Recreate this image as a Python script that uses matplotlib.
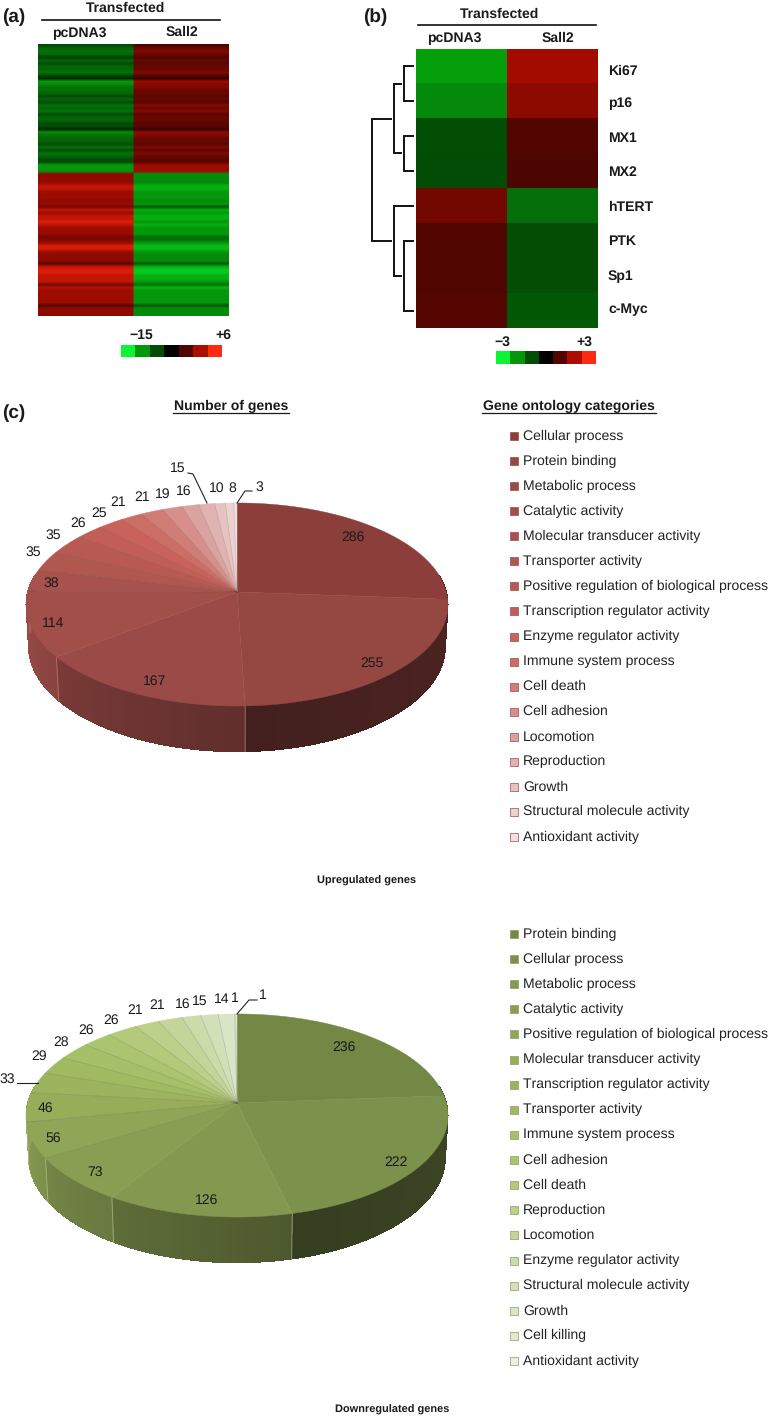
import numpy as np
import matplotlib
matplotlib.use("Agg")
import matplotlib.pyplot as plt
from matplotlib.colors import LinearSegmentedColormap, to_rgb
from matplotlib.collections import PolyCollection
from matplotlib.patches import Polygon

plt.rcParams['font.family'] = ['Liberation Sans', 'DejaVu Sans']
plt.rcParams['text.hinting'] = 'none'
plt.rcParams['text.hinting_factor'] = 1

# ---------- data ----------
columns = ["pcDNA3", "Sall2"]
# heatmap (a): expression level per gene row (signed, -10 to +10 of the colour scale)
a_up_pc = [-3,-4,-4.5,-4,-2.5,-4,-3,-4,-4,-4.5,-3,-1.5,-6,-5.5,-4.5,-4.5,-4,-3,-4,-3,-4.5,-4,-4.5,-3,-4,-4,-3,-3,-1.5,-5.5,-4.5,-4,-4,-3,-4.5,-3,-4.5,-4,-3,-3,-6,-6,-6]
a_up_sa = [3,4,5,4,3,4,3.5,4,4,5,3.5,2,6,5,5,4,4,3.5,4,3.5,5,4,5,3.5,4,4,3.5,3.5,2,5.5,5,4,4,3.5,5,3.5,5,4,3.5,3.5,6,6,6]
a_dn_pc = [5.5,5.5,5.5,6,7.5,7.5,6,6,6,5.5,6,4.5,7.5,6,7.5,7.5,8.5,7.5,6,6,6,4.5,5,6,8.5,8.5,6,5.5,5.5,5.5,3.5,7.5,8.5,8.5,7.5,7.5,7.5,4.5,7,6,6,6,6,6,3.5,5.5,5.5,5.5]
a_dn_sa = [-5.5,-5.5,-5.5,-5.5,-7,-7,-6,-6,-6,-5.5,-6,-3.5,-7,-6,-7,-7,-6,-7,-6,-6,-6,-4.5,-4.5,-6,-7.5,-7.5,-6,-5.5,-5.5,-5.5,-3.5,-7,-8,-8,-7,-7,-6,-4.5,-7,-6,-6,-6,-6,-6,-3.5,-5.5,-5.5,-5.5]
a_scale_labels = ["\u221215", "+6"]

b_genes = ["Ki67", "p16", "MX1", "MX2", "hTERT", "PTK", "Sp1", "c-Myc"]
b_pc = [-6.3,-5.4,-3.1,-3.0,4.4,3.1,3.1,3.3]
b_sa = [6.3,5.4,3.2,2.9,-4.4,-3.1,-3.1,-3.5]
b_scale_labels = ["\u22123", "+3"]
scale_steps = [-10,-6,-3,0,3.2,6.6,10]
# dendrogram merges: member leaves or earlier nodes (by index into the list, offset by 100), height
dend_merges = [((0,1),10), ((2,3),10), ((100,101),20), ((5,6,7),10), ((4,103),20), ((102,104),42)]

up_names = ["Cellular process","Protein binding","Metabolic process","Catalytic activity","Molecular transducer activity","Transporter activity","Positive regulation of biological process","Transcription regulator activity","Enzyme regulator activity","Immune system process","Cell death","Cell adhesion","Locomotion","Reproduction","Growth","Structural molecule activity","Antioxidant activity"]
up_vals = [286,255,167,114,38,35,35,26,25,21,21,19,16,15,10,8,3]
up_colors = ["#8b3e3a","#954742","#9b4b47","#a24f4a","#a8524d","#b0574f","#b85a53","#c05e57","#c9625b","#cc6d66","#d07d77","#d68f8a","#dba3a0","#e0b3b1","#e6c3c1","#ebd2d1","#f0e0df"]
dn_names = ["Protein binding","Cellular process","Metabolic process","Catalytic activity","Positive regulation of biological process","Molecular transducer activity","Transcription regulator activity","Transporter activity","Immune system process","Cell adhesion","Cell death","Reproduction","Locomotion","Enzyme regulator activity","Structural molecule activity","Growth","Cell killing","Antioxidant activity"]
dn_vals = [236,222,126,73,56,46,33,29,28,26,26,21,21,16,15,14,1,1]
dn_colors = ["#748845","#7c914b","#84984f","#8a9e53","#90a656","#97ad5a","#9cb45e","#a0ba62","#a5c068","#abc46f","#b3ca7b","#bcd08a","#c3d59a","#cbdcaa","#d2e0b8","#d9e6c6","#e0ebd2","#e8f0de"]

# label anchor positions, in figure pixels
up_label_xy = [(353,537),(372,663),(155,681),(53,623),(51,583),(33,552),(53,535),(78,523),(99,513),(118,502),(142,497),(163,494),(184,491),(178,468),(217,488),(232,488),(259,487)]
dn_label_xy = [(344,1047),(396,1162),(207,1200),(95,1172),(53,1138),(45,1108),(7,1079),(39,1056),(61,1042),(86,1030),(111,1020),(135,1010),(157,1005),(183,1004),(200,1001),(222,999),(235,998),(263,995)]

# ---------- figure ----------
W, H = 772, 1419
fig = plt.figure(figsize=(W/100, H/100), dpi=100, facecolor="white")
bg = fig.add_axes([0,0,1,1])
bg.set_xlim(0,W); bg.set_ylim(H,0); bg.axis("off")
cmap = LinearSegmentedColormap.from_list("gbr", [(0,"#0cf535"),(.175,"#06a40c"),(.5,"#000000"),(.825,"#a80c00"),(1,"#ff2a10")])
TXT = "#1a1a1a"

def px_axes(x0,y0,x1,y1):
    return fig.add_axes([x0/W, 1-y1/H, (x1-x0)/W, (y1-y0)/H])

def heat(box, matrix, rows=1, cols=80, interp="bilinear"):
    ax = px_axes(*box)
    fine = np.repeat(np.repeat(matrix, rows, axis=0), cols, axis=1)
    ax.imshow(fine, cmap=cmap, vmin=-10, vmax=10, aspect="auto", interpolation=interp)
    ax.axis("off")
    return ax

def btext(x,y,s,size=10.3,**kw):
    kw.setdefault("ha","center")
    bg.text(x,y,s,fontsize=size,fontweight="bold",va="center",color=TXT,**kw)

# panel a
mat_a = np.column_stack([a_up_pc+a_dn_pc, a_up_sa+a_dn_sa])
heat((37.7,44.3,228.7,315.7), mat_a)
heat((120.7,345,221.7,357), np.array([scale_steps]), cols=1, interp="nearest")
btext(125,8,"Transfected")
bg.plot([42,220],[20,20],color="#111",lw=1.2)
btext(79,33,columns[0]); btext(182,32,columns[1])
btext(141,335,a_scale_labels[0]); btext(223,335,a_scale_labels[1])
btext(14,17,"(a)",14)

# panel b
mat_b = np.column_stack([b_pc,b_sa])
heat((415.7,48.7,596.7,328), mat_b, rows=30)
heat((496,351,595,364), np.array([scale_steps]), cols=1, interp="nearest")
btext(500,14,"Transfected")
bg.plot([418,596],[25,25],color="#111",lw=1.2)
btext(454,38,columns[0]); btext(558,38,columns[1])
for g,y in zip(b_genes,[71,103,138,172,207,241,276,309]):
    btext(608,y,g,ha="left")
btext(502,342,b_scale_labels[0]); btext(584,342,b_scale_labels[1])
btext(375,17,"(b)",14)

# dendrogram, in the row scale of the heatmap
dax = px_axes(365,48.7,414,328)
dax.set_xlim(49,0); dax.set_ylim(8,0); dax.axis("off")
nodes = {}
def pos(k):
    return (k+0.5,0.0) if k<100 else nodes[k]
for i,(members,h) in enumerate(dend_merges):
    pts = [pos(m) for m in members]
    ys = [p[0] for p in pts]
    first,last = pts[0],pts[-1]
    stop = lambda p: (p[1]+3.5) if p[1]>0 else 1
    dax.plot([stop(first),h,h,stop(last)],[first[0],first[0],last[0],last[0]],color="#111",lw=1.4,solid_joinstyle="miter")
    nodes[100+i] = (np.mean(ys),h)

# pies
A,B,K,D,M = 100.0,209.4,0.123,42.0,0.012
def project(theta,r,z,c):
    th = np.radians(theta)
    u,v = r*np.sin(th), r*np.cos(th)
    den = 1+K*v+M*z
    return c[0]+B*u/den, c[1]-(A*v-D*z)/den

def shade(mid,theta):
    base = np.interp(mid,[120,136,190,205,225,250,275],[.45,.48,.65,.7,.8,.9,.95])
    slope = .003 if mid>160 else -.0008
    return np.clip(base+(theta-mid)*slope,0,1)

def pie3d(vals,colors,c,edge):
    vals = np.asarray(vals,float)
    ang = np.concatenate([[0],np.cumsum(vals)/vals.sum()*360])
    for i,col in enumerate(colors):
        a0,a1 = ang[i],ang[i+1]
        lo,hi = max(a0,80),min(a1,280)
        if hi>lo:
            mid=(a0+a1)/2
            t = np.append(np.arange(lo,hi,1.0),hi)
            quads,fc=[],[]
            for p,q in zip(t[:-1],t[1:]):
                x0,y0=project(p,1,0,c);x1,y1=project(q+.3,1,0,c)
                x2,y2=project(q+.3,1,1,c);x3,y3=project(p,1,1,c)
                quads.append([(x0,y0),(x1,y1),(x2,y2),(x3,y3)])
                fc.append(np.array(to_rgb(col))*shade(mid,(p+q)/2))
            bg.add_collection(PolyCollection(quads,facecolors=fc,edgecolors="none",antialiaseds=False,zorder=2))
            if 95<a0<275:
                xa,ya=project(a0,1,0,c);xb,yb=project(a0,1,1,c)
                bg.plot([xa,xb],[ya,yb],color=edge,lw=.7,alpha=.6,zorder=2.5)
    share = vals/vals.sum()
    for i,col in enumerate(colors):
        t = np.linspace(ang[i],ang[i+1],max(3,int((ang[i+1]-ang[i])*2)))
        xs,ys = project(t,1,0,c)
        poly = np.column_stack([np.r_[c[0],xs],np.r_[c[1],ys]])
        bg.add_patch(Polygon(poly,closed=True,facecolor=col,edgecolor=col,lw=.3,zorder=3))
    for i in range(len(vals)):
        if share[i]<.06 and i>0:
            x,y = project(ang[i],1,0,c)
            bg.plot([c[0],x],[c[1],y],color=(.25,.2,.2,.22),lw=.5,zorder=3.2)

pie3d(up_vals,up_colors,(237,592),"#c98b88")
pie3d(dn_vals,dn_colors,(237,1103),"#b9c99a")

for (x,y),v in zip(up_label_xy,up_vals):
    bg.text(x,y,str(v),ha="center",va="center",fontsize=9.8,color=TXT,zorder=5)
for (x,y),v in zip(dn_label_xy,dn_vals):
    bg.text(x,y,str(v),ha="center",va="center",fontsize=9.8,color=TXT,zorder=5)
for xs,ys in [([188,193,207],[473,474,503]),([252,245,237],[491,491,503]),
              ([17,38],[1083,1083]),([257,249,237],[1000,1000,1014])]:
    bg.plot(xs,ys,color="#222",lw=.8,zorder=4)

# legends
def legend(names,colors,y0,y1,edge):
    ys = np.linspace(y0,y1,len(names))
    for n,col,y in zip(names,colors,ys):
        bg.scatter([513.5],[y],s=26,marker="s",facecolor=col,edgecolor=edge,linewidths=.5,zorder=4)
        bg.text(523,y,n,ha="left",va="center",fontsize=10.35,color="#222")
legend(up_names,up_colors,436,837,"#9c4a46")
legend(dn_names,dn_colors,934,1361,"#8a9d5a")

# headers
for x,s,w in [(231,"Number of genes",58),(569,"Gene ontology categories",87)]:
    bg.text(x,406,s,ha="center",va="center",fontsize=10.2,fontweight="bold",color=TXT)
    bg.plot([x-w,x+w],[413,413],color=TXT,lw=.9)
btext(14,413,"(c)",14)
btext(367,881,"Upregulated genes",8.2)
btext(392,1410,"Downregulated genes",8.2)

fig.savefig("out.png",dpi=100)
